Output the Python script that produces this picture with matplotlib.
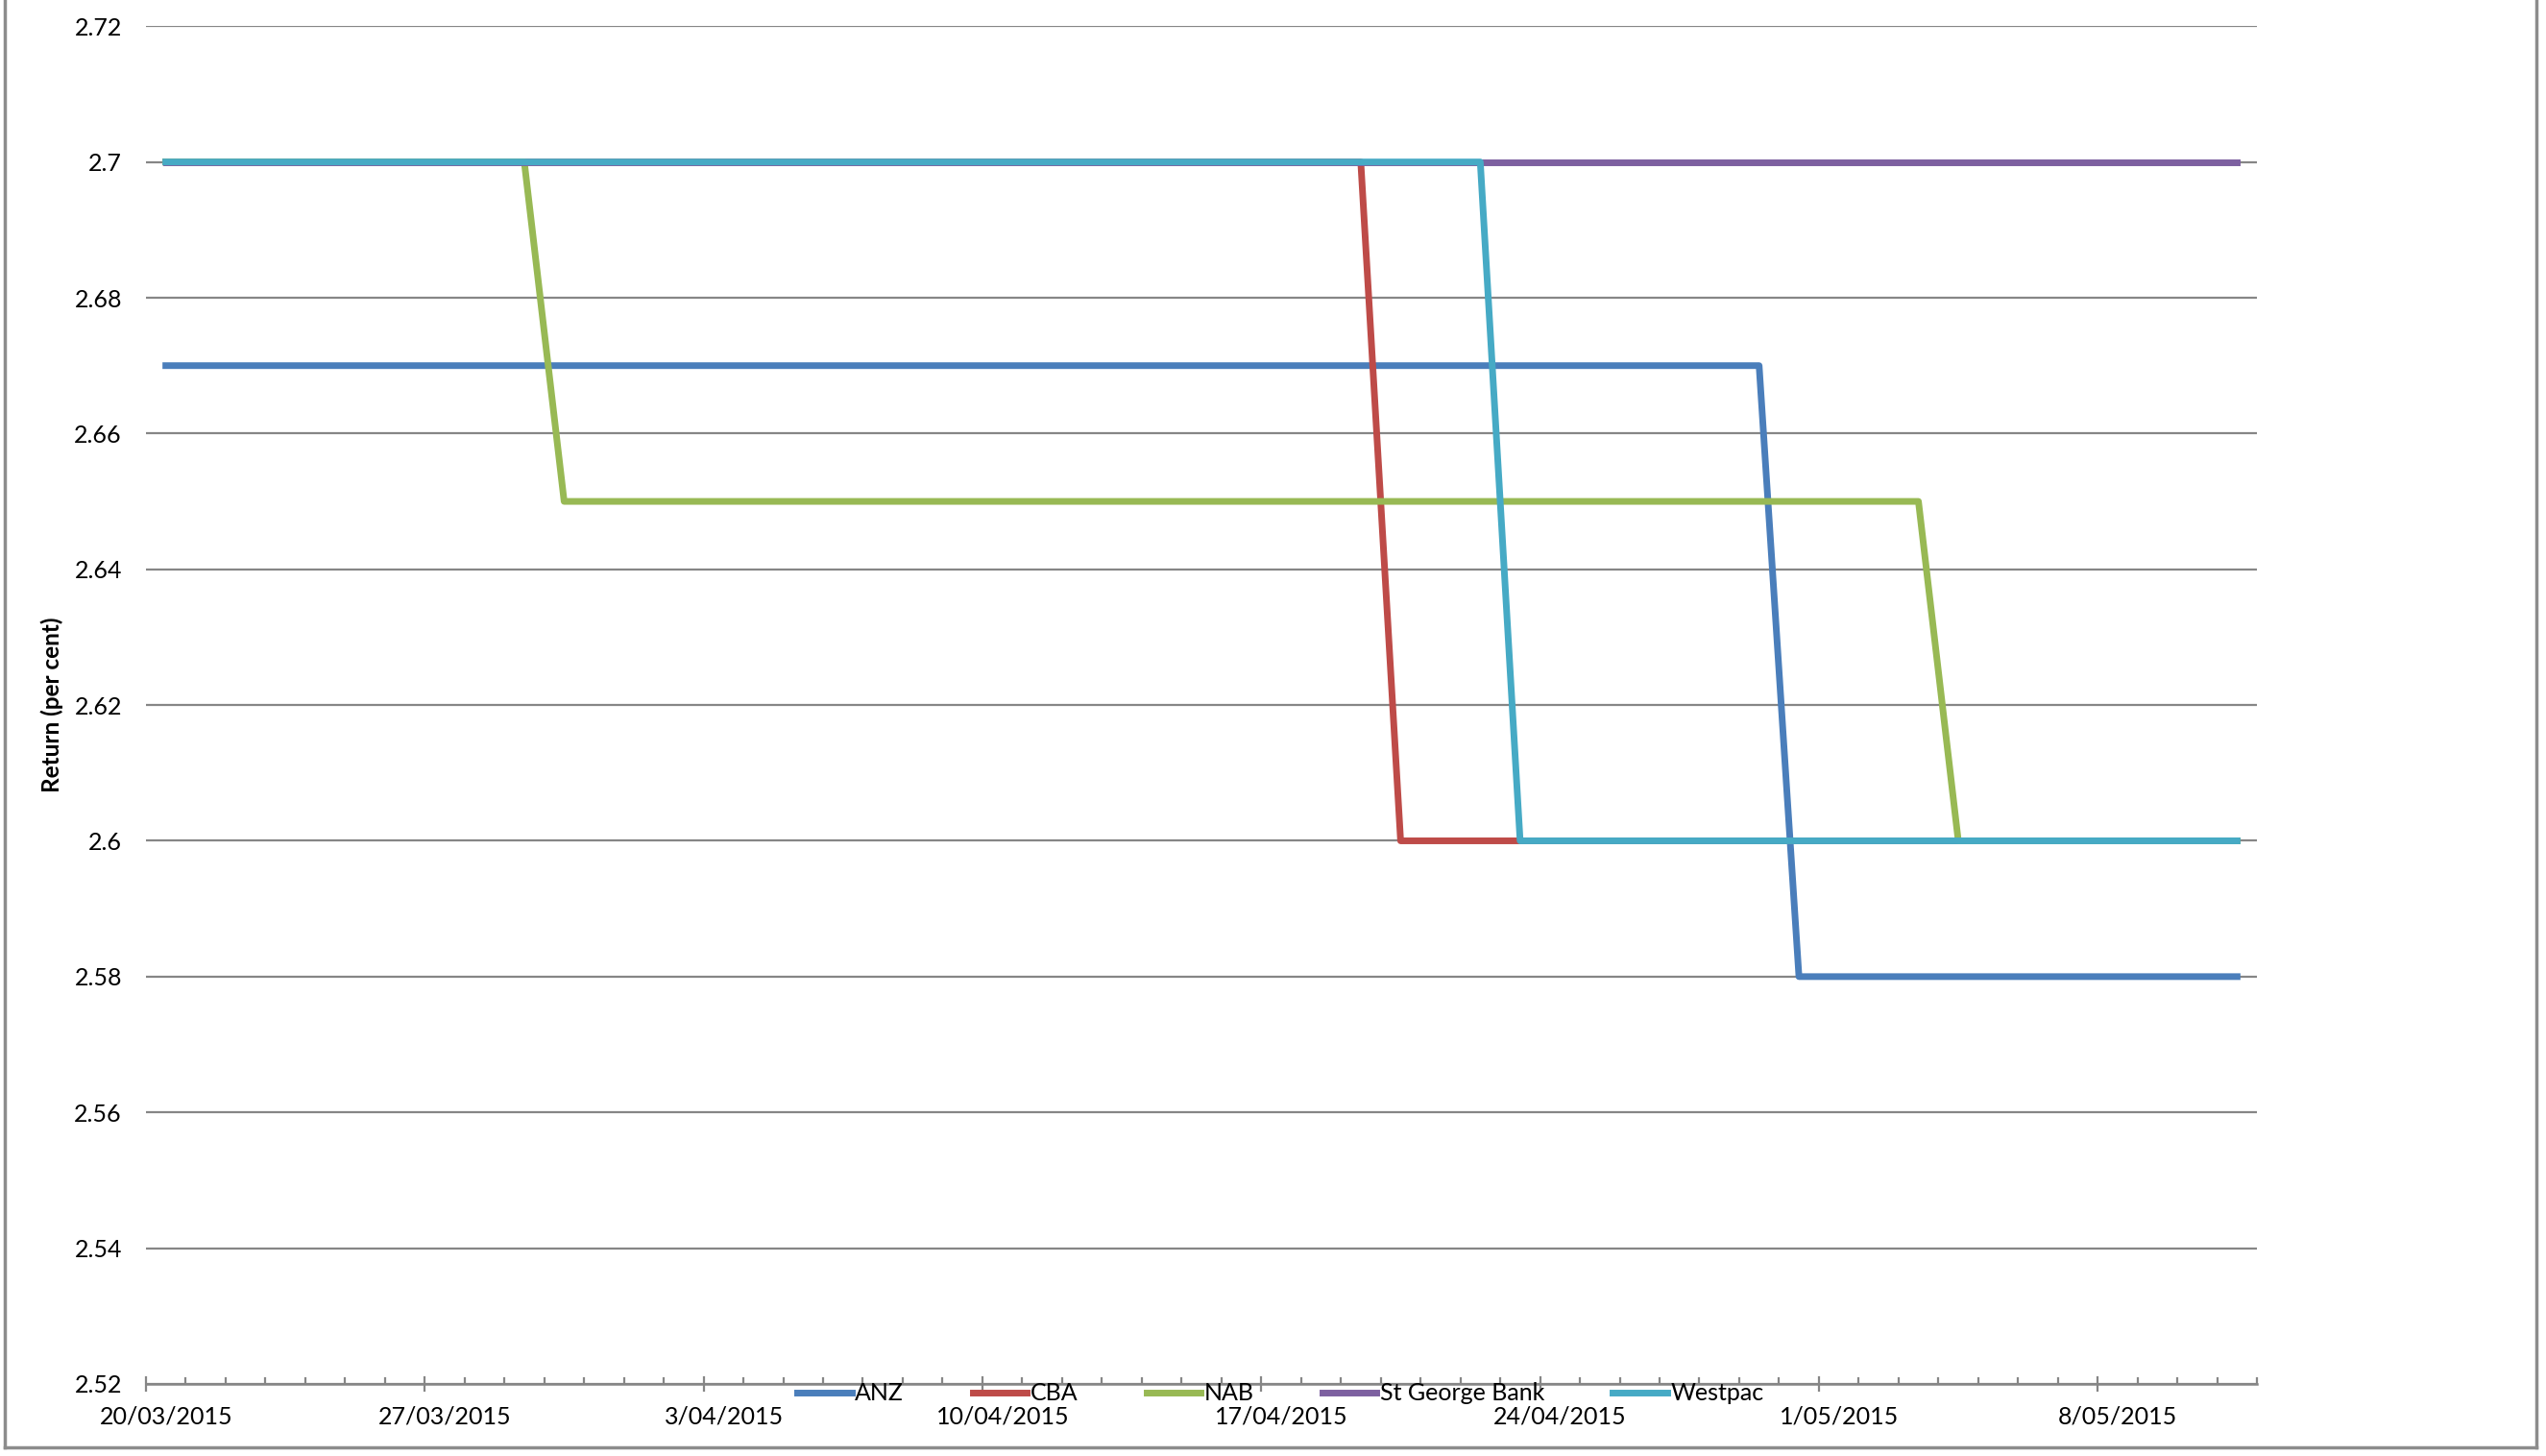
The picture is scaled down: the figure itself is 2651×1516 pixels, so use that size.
import pandas as pd
import matplotlib
matplotlib.use("Agg")
import matplotlib.pyplot as plt
import matplotlib.dates as mdates
from matplotlib.lines import Line2D
from matplotlib.transforms import ScaledTranslation
from matplotlib.ticker import FuncFormatter

plt.rcParams['font.family'] = ['Lato', 'DejaVu Sans']

# daily observations, 20/03/2015 - 11/05/2015
dates = pd.date_range("2015-03-20", "2015-05-11", freq="D")

anz = [2.67, 2.67, 2.67, 2.67, 2.67, 2.67, 2.67,
       2.67, 2.67, 2.67, 2.67, 2.67, 2.67, 2.67,
       2.67, 2.67, 2.67, 2.67, 2.67, 2.67, 2.67,
       2.67, 2.67, 2.67, 2.67, 2.67, 2.67, 2.67,
       2.67, 2.67, 2.67, 2.67, 2.67, 2.67, 2.67,
       2.67, 2.67, 2.67, 2.67, 2.67, 2.67, 2.58,
       2.58, 2.58, 2.58, 2.58, 2.58, 2.58, 2.58,
       2.58, 2.58, 2.58, 2.58]
cba = [2.70, 2.70, 2.70, 2.70, 2.70, 2.70, 2.70,
       2.70, 2.70, 2.70, 2.70, 2.70, 2.70, 2.70,
       2.70, 2.70, 2.70, 2.70, 2.70, 2.70, 2.70,
       2.70, 2.70, 2.70, 2.70, 2.70, 2.70, 2.70,
       2.70, 2.70, 2.70, 2.60, 2.60, 2.60, 2.60,
       2.60, 2.60, 2.60, 2.60, 2.60, 2.60, 2.60,
       2.60, 2.60, 2.60, 2.60, 2.60, 2.60, 2.60,
       2.60, 2.60, 2.60, 2.60]
nab = [2.70, 2.70, 2.70, 2.70, 2.70, 2.70, 2.70,
       2.70, 2.70, 2.70, 2.65, 2.65, 2.65, 2.65,
       2.65, 2.65, 2.65, 2.65, 2.65, 2.65, 2.65,
       2.65, 2.65, 2.65, 2.65, 2.65, 2.65, 2.65,
       2.65, 2.65, 2.65, 2.65, 2.65, 2.65, 2.65,
       2.65, 2.65, 2.65, 2.65, 2.65, 2.65, 2.65,
       2.65, 2.65, 2.65, 2.60, 2.60, 2.60, 2.60,
       2.60, 2.60, 2.60, 2.60]
st_george = [2.70, 2.70, 2.70, 2.70, 2.70, 2.70, 2.70,
             2.70, 2.70, 2.70, 2.70, 2.70, 2.70, 2.70,
             2.70, 2.70, 2.70, 2.70, 2.70, 2.70, 2.70,
             2.70, 2.70, 2.70, 2.70, 2.70, 2.70, 2.70,
             2.70, 2.70, 2.70, 2.70, 2.70, 2.70, 2.70,
             2.70, 2.70, 2.70, 2.70, 2.70, 2.70, 2.70,
             2.70, 2.70, 2.70, 2.70, 2.70, 2.70, 2.70,
             2.70, 2.70, 2.70, 2.70]
westpac = [2.70, 2.70, 2.70, 2.70, 2.70, 2.70, 2.70,
           2.70, 2.70, 2.70, 2.70, 2.70, 2.70, 2.70,
           2.70, 2.70, 2.70, 2.70, 2.70, 2.70, 2.70,
           2.70, 2.70, 2.70, 2.70, 2.70, 2.70, 2.70,
           2.70, 2.70, 2.70, 2.70, 2.70, 2.70, 2.60,
           2.60, 2.60, 2.60, 2.60, 2.60, 2.60, 2.60,
           2.60, 2.60, 2.60, 2.60, 2.60, 2.60, 2.60,
           2.60, 2.60, 2.60, 2.60]

names = ["ANZ", "CBA", "NAB", "St George Bank", "Westpac"]
series = [anz, cba, nab, st_george, westpac]
colors = ["#4A7EBB", "#BE4B48", "#98B954", "#7D60A0", "#46AAC5"]

fig = plt.figure(figsize=(26.51, 15.16), dpi=100)
ax = fig.add_axes([0.0573, 0.0495, 0.8292, 0.9325])

# Excel date axis puts each point in the middle of its day
x = dates + pd.Timedelta(hours=12)
for name, vals, c in zip(names, series, colors):
    ax.plot(x, vals, color=c, lw=5, label=name, solid_joinstyle='round')

ax.set_xlim(pd.Timestamp("2015-03-20"), pd.Timestamp("2015-05-12"))
ax.set_ylim(2.52, 2.72)
ax.set_yticks([2.52 + 0.02 * i for i in range(11)])
ax.yaxis.set_major_formatter(FuncFormatter(lambda v, p: f"{v:.2f}".rstrip('0').rstrip('.')))

ax.set_xticks(pd.date_range("2015-03-20", "2015-05-08", freq="7D"))
ax.set_xticks(pd.date_range("2015-03-20", "2015-05-12", freq="D"), minor=True)
ax.xaxis.set_major_formatter(FuncFormatter(
    lambda v, p: (lambda d: f"{d.day}/{d.month:02d}/{d.year}")(mdates.num2date(v))))

ax.grid(axis='y', color='#868686', lw=1.6)
ax.set_axisbelow(True)
for s in ['left', 'right', 'top']:
    ax.spines[s].set_visible(False)
ax.spines['bottom'].set_color('#868686')
ax.spines['bottom'].set_linewidth(1.8)
ax.spines['bottom'].set_zorder(1)

ax.tick_params(axis='y', length=0, labelsize=18, pad=18)
ax.tick_params(axis='x', which='major', direction='inout', length=12, width=1.6,
               color='#868686', labelsize=18, pad=10)
ax.tick_params(axis='x', which='minor', direction='in', length=5, width=1.6,
               color='#868686')
offset = ScaledTranslation(0.21, 0, fig.dpi_scale_trans)
for lab in ax.get_xticklabels():
    lab.set_transform(lab.get_transform() + offset)

ax.set_ylabel("Return (per cent)", fontsize=17.5, fontweight='bold', labelpad=8)

ax.legend(loc='center', bbox_to_anchor=(0.503, 0.043), bbox_transform=fig.transFigure,
          ncol=5, frameon=False, fontsize=18, handlelength=2.25, handletextpad=0.15,
          columnspacing=2.85, borderpad=0)

# chart border
for xs, ys in [([5 / 2651, 5 / 2651], [0.006, 1.0]),
               ([2641 / 2651, 2641 / 2651], [0.006, 1.0]),
               ([5 / 2651, 2641 / 2651], [0.006, 0.006])]:
    fig.add_artist(Line2D(xs, ys, color='#8c8c8c', lw=2.5, transform=fig.transFigure))

fig.savefig("out.png", dpi=100)
